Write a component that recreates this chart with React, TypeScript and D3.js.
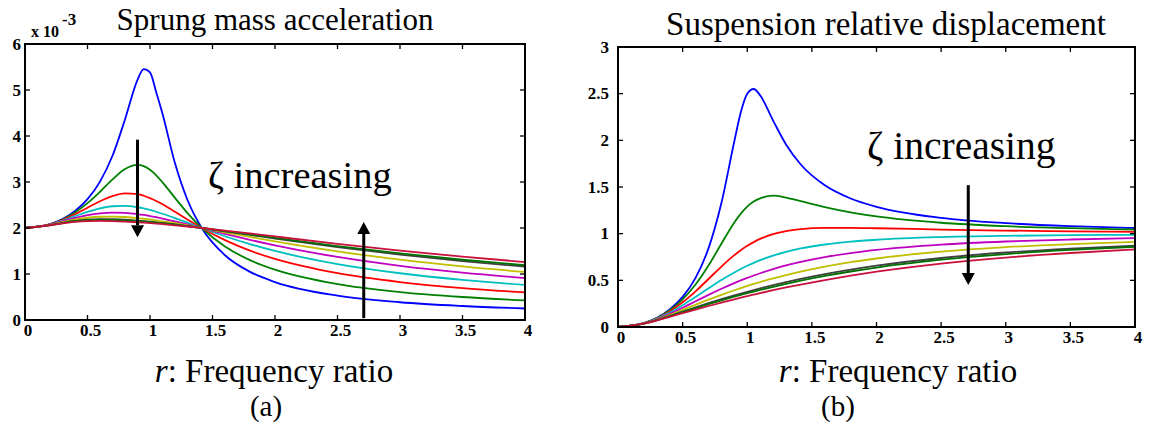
import React from 'react';
import * as d3 from 'd3';

// frequency ratio samples
const rValues = [0, 0.2, 0.4, 0.5, 0.6, 0.7, 0.8, 0.9, 0.95, 1.0, 1.05, 1.1, 1.2, 1.3, 1.414, 1.6, 1.8, 2.0, 2.5, 3.0, 3.5, 4.0];

// (a) sprung mass acceleration, x 10^-3
const accBlue = [2, 2.083, 2.369, 2.628, 3.009, 3.57, 4.36, 5.222, 5.454, 5.385, 4.95, 4.482, 3.407, 2.609, 2.0, 1.408, 1.047, 0.825, 0.529, 0.386, 0.304, 0.25];
const accGreen = [2, 2.081, 2.339, 2.541, 2.788, 3.056, 3.282, 3.373, 3.344, 3.265, 3.144, 2.993, 2.655, 2.325, 2.0, 1.599, 1.301, 1.093, 0.779, 0.608, 0.5, 0.425];
const accRed = [2, 2.079, 2.299, 2.441, 2.582, 2.694, 2.751, 2.735, 2.701, 2.65, 2.588, 2.515, 2.353, 2.185, 2.0, 1.736, 1.507, 1.327, 1.017, 0.825, 0.694, 0.6];
const accCyan = [2, 2.076, 2.257, 2.352, 2.428, 2.473, 2.48, 2.451, 2.425, 2.392, 2.353, 2.31, 2.216, 2.116, 2.0, 1.821, 1.649, 1.501, 1.215, 1.016, 0.872, 0.763];
const accMagenta = [2, 2.072, 2.218, 2.279, 2.32, 2.336, 2.33, 2.303, 2.283, 2.26, 2.234, 2.206, 2.144, 2.078, 2.0, 1.873, 1.743, 1.623, 1.371, 1.178, 1.029, 0.912];
const accYellow = [2, 2.068, 2.184, 2.223, 2.245, 2.249, 2.239, 2.216, 2.201, 2.185, 2.166, 2.146, 2.103, 2.056, 2.0, 1.906, 1.806, 1.71, 1.492, 1.312, 1.165, 1.044];
const accGray = [2, 2.064, 2.155, 2.181, 2.192, 2.191, 2.18, 2.162, 2.15, 2.138, 2.124, 2.109, 2.077, 2.042, 2.0, 1.928, 1.85, 1.771, 1.585, 1.421, 1.28, 1.159];
const accDarkGreen = [2, 2.063, 2.148, 2.17, 2.179, 2.177, 2.167, 2.15, 2.139, 2.127, 2.114, 2.101, 2.071, 2.039, 2.0, 1.934, 1.86, 1.786, 1.608, 1.449, 1.31, 1.19];
const accCrimson = [2, 2.06, 2.131, 2.148, 2.153, 2.15, 2.14, 2.125, 2.116, 2.106, 2.096, 2.084, 2.059, 2.033, 2.0, 1.944, 1.881, 1.816, 1.657, 1.509, 1.377, 1.26];

// (b) suspension relative displacement
const dispBlue = [0, 0.0415, 0.1871, 0.3221, 0.5267, 0.8422, 1.3287, 1.9899, 2.3005, 2.5, 2.5502, 2.4818, 2.2115, 1.956, 1.7408, 1.5182, 1.377, 1.2883, 1.1694, 1.1126, 1.0806, 1.0607];
const dispGreen = [0, 0.0411, 0.1787, 0.2961, 0.4551, 0.6581, 0.8927, 1.1204, 1.2152, 1.2903, 1.3442, 1.3781, 1.408, 1.387, 1.348, 1.2846, 1.2278, 1.1846, 1.1168, 1.0803, 1.0586, 1.0446];
const dispRed = [0, 0.0405, 0.1671, 0.2645, 0.3825, 0.5142, 0.6478, 0.7697, 0.8228, 0.8696, 0.9098, 0.9436, 0.9942, 1.0264, 1.0476, 1.0612, 1.0623, 1.0581, 1.0442, 1.033, 1.0252, 1.0198];
const dispCyan = [0, 0.0397, 0.1541, 0.2337, 0.3224, 0.4142, 0.5031, 0.5846, 0.6215, 0.6557, 0.6871, 0.7157, 0.7651, 0.8051, 0.8413, 0.884, 0.9145, 0.935, 0.9633, 0.9766, 0.9838, 0.9881];
const dispMagenta = [0, 0.0387, 0.1412, 0.2065, 0.2754, 0.344, 0.4097, 0.4708, 0.4993, 0.5263, 0.5519, 0.576, 0.6201, 0.659, 0.6976, 0.7492, 0.7925, 0.8262, 0.8828, 0.9162, 0.9374, 0.9515];
const dispYellow = [0, 0.0377, 0.1292, 0.1835, 0.2388, 0.293, 0.345, 0.3939, 0.4172, 0.4396, 0.4611, 0.4818, 0.5207, 0.5565, 0.5936, 0.6464, 0.6941, 0.7339, 0.8075, 0.8559, 0.8888, 0.912];
const dispGray = [0, 0.0365, 0.1183, 0.1642, 0.21, 0.2547, 0.2976, 0.3385, 0.3582, 0.3774, 0.396, 0.414, 0.4486, 0.481, 0.5156, 0.5666, 0.6148, 0.6568, 0.7394, 0.798, 0.8402, 0.8711];
const dispDarkGreen = [0, 0.0361, 0.1153, 0.1592, 0.2028, 0.2452, 0.2861, 0.3251, 0.344, 0.3623, 0.3802, 0.3976, 0.431, 0.4625, 0.4964, 0.5466, 0.5945, 0.6367, 0.7209, 0.7817, 0.8261, 0.8591];
const dispCrimson = [0, 0.0353, 0.1086, 0.1481, 0.1871, 0.225, 0.2616, 0.2968, 0.3139, 0.3306, 0.3469, 0.3629, 0.3938, 0.4233, 0.4552, 0.5034, 0.5503, 0.5923, 0.6789, 0.7439, 0.793, 0.8302];

const seriesColors = ['#0000ff', '#008000', '#ff0000', '#00bfbf', '#bf00bf', '#bfbf00', '#404040', '#007000', '#c8103c'];
const accSeries = [accBlue, accGreen, accRed, accCyan, accMagenta, accYellow, accGray, accDarkGreen, accCrimson];
const dispSeries = [dispBlue, dispGreen, dispRed, dispCyan, dispMagenta, dispYellow, dispGray, dispDarkGreen, dispCrimson];

const xTicks = [0, 0.5, 1, 1.5, 2, 2.5, 3, 3.5, 4];
const accYTicks = [0, 1, 2, 3, 4, 5, 6];
const dispYTicks = [0, 0.5, 1, 1.5, 2, 2.5, 3];

// arrows: [r, fromValue, toValue]
const accArrows = [[0.9, 3.92, 1.8], [2.71, 0.04, 2.13]];
const dispArrows = [[2.71, 1.52, 0.45]];

const serif = '"Liberation Serif", "Times New Roman", serif';

type PanelProps = {
  x0: number; x1: number; y0: number; y1: number; yMax: number;
  series: number[][]; yTicks: number[]; arrows: number[][];
  yLabelGap: number;
};

function Panel({ x0, x1, y0, y1, yMax, series, yTicks, arrows, yLabelGap }: PanelProps) {
  const x = d3.scaleLinear().domain([0, 4]).range([x0, x1]);
  const y = d3.scaleLinear().domain([0, yMax]).range([y1, y0]);
  const line = d3.line<number>().x((_, i) => x(rValues[i])).y(d => y(d)).curve(d3.curveMonotoneX);
  const tl = 5;
  return (
    <g>
      {series.map((s, i) => (
        <path key={i} d={line(s) || ''} fill="none" stroke={seriesColors[i]} strokeWidth={1.8} strokeLinejoin="round" />
      ))}
      <rect x={x0} y={y0} width={x1 - x0} height={y1 - y0} fill="none" stroke="#000" strokeWidth={2} />
      {xTicks.map(t => (
        <g key={'x' + t}>
          <line x1={x(t)} x2={x(t)} y1={y1} y2={y1 - tl} stroke="#000" strokeWidth={1.3} />
          <line x1={x(t)} x2={x(t)} y1={y0} y2={y0 + tl} stroke="#000" strokeWidth={1.3} />
          <text x={x(t) + 3} y={y1 + 16} textAnchor="middle" fontFamily={serif} fontWeight="bold" fontSize={17}>{String(t)}</text>
        </g>
      ))}
      {yTicks.map(t => (
        <g key={'y' + t}>
          <line x1={x0} x2={x0 + tl} y1={y(t)} y2={y(t)} stroke="#000" strokeWidth={1.3} />
          <line x1={x1} x2={x1 - tl} y1={y(t)} y2={y(t)} stroke="#000" strokeWidth={1.3} />
          <text x={x0 - yLabelGap} y={y(t) + 5.5} textAnchor="end" fontFamily={serif} fontWeight="bold" fontSize={17}>{String(t)}</text>
        </g>
      ))}
      {arrows.map((a, i) => {
        const ax = x(a[0]);
        const ya = y(a[1]);
        const yb = y(a[2]);
        const dir = yb > ya ? 1 : -1;
        const head = 12;
        return (
          <g key={'a' + i}>
            <line x1={ax} x2={ax} y1={ya} y2={yb - dir * head} stroke="#000" strokeWidth={3} />
            <polygon points={`${ax - 6.5},${yb - dir * head} ${ax + 6.5},${yb - dir * head} ${ax},${yb}`} fill="#000" />
          </g>
        );
      })}
    </g>
  );
}

export default function App() {
  return (
    <svg width={1149} height={426} style={{ position: 'absolute', left: 0, top: 0, background: '#fff' }}>
      <rect x={0} y={0} width={1149} height={426} fill="#fff" />
      <Panel x0={25} x1={525} y0={44} y1={320} yMax={6} series={accSeries} yTicks={accYTicks} arrows={accArrows} yLabelGap={4} />
      <Panel x0={618} x1={1135} y0={47} y1={327} yMax={3} series={dispSeries} yTicks={dispYTicks} arrows={dispArrows} yLabelGap={9} />

      <text x={275} y={30} textAnchor="middle" fontFamily={serif} fontSize={31}>Sprung mass acceleration</text>
      <text x={886} y={35} textAnchor="middle" fontFamily={serif} fontSize={33}>Suspension relative displacement</text>

      <text x={31} y={37} fontFamily={serif} fontWeight="bold" fontSize={16}>x 10</text>
      <text x={62} y={25} fontFamily={serif} fontWeight="bold" fontSize={17}>-3</text>

      <text x={208} y={188} fontFamily={serif} fontSize={38.5}>ζ increasing</text>
      <text x={867} y={159} fontFamily={serif} fontSize={39.5}>ζ increasing</text>

      <text x={274} y={382} textAnchor="middle" fontFamily={serif} fontSize={33}>
        <tspan fontStyle="italic">r</tspan>: Frequency ratio
      </text>
      <text x={266} y={416} textAnchor="middle" fontFamily={serif} fontSize={29}>(a)</text>
      <text x={898} y={382} textAnchor="middle" fontFamily={serif} fontSize={33}>
        <tspan fontStyle="italic">r</tspan>: Frequency ratio
      </text>
      <text x={838} y={416} textAnchor="middle" fontFamily={serif} fontSize={29}>(b)</text>
    </svg>
  );
}
